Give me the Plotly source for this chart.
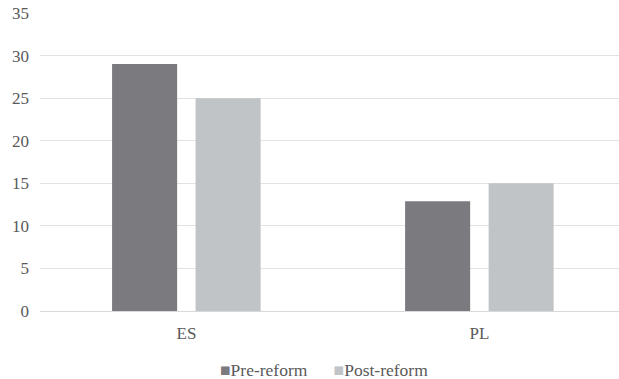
import plotly.graph_objects as go

# Data
countries = ["ES", "PL"]
pre_reform = [29, 12.9]
post_reform = [25, 15]
series_names = ["Pre-reform", "Post-reform"]
y_ticks = [0, 5, 10, 15, 20, 25, 30, 35]

PRE_COLOR = "#7b7a7f"
POST_COLOR = "#c1c4c6"
TEXT_COLOR = "#595959"
GRID_COLOR = "#e2e2e2"
FONT = "Liberation Serif"
AXIS_SIZE = 17
LEGEND_SIZE = 17.5

BAR_W = 0.222

fig = go.Figure()
fig.add_trace(go.Bar(
    x=countries, y=pre_reform, name=series_names[0],
    marker=dict(color=PRE_COLOR, line=dict(width=0)),
    width=BAR_W, offset=-0.254,
))
fig.add_trace(go.Bar(
    x=countries, y=post_reform, name=series_names[1],
    marker=dict(color=POST_COLOR, line=dict(width=0)),
    width=BAR_W, offset=0.031,
))

# Compact legend: square glyph sitting right next to each series name
legend_text = "&nbsp;&nbsp;&nbsp;&nbsp;&nbsp;&nbsp;".join(
    f"<span style='color:{c}'>■</span>{n}"
    for c, n in zip([PRE_COLOR, POST_COLOR], series_names)
)
fig.add_annotation(
    text=legend_text, xref="paper", yref="paper",
    x=0.49, y=-0.198, xanchor="center", yanchor="middle",
    showarrow=False,
    font=dict(family=FONT, size=LEGEND_SIZE, color=TEXT_COLOR),
)

fig.update_layout(
    width=619, height=379,
    margin=dict(l=40, r=0, t=13, b=68),
    plot_bgcolor="white", paper_bgcolor="white",
    barmode="overlay",
    font=dict(family=FONT, size=AXIS_SIZE, color=TEXT_COLOR),
    showlegend=False,
    xaxis=dict(
        type="category", range=[-0.5, 1.476],
        showgrid=False, showline=False, ticks="",
        tickfont=dict(family=FONT, size=AXIS_SIZE, color=TEXT_COLOR),
        ticklabelstandoff=10,
    ),
    yaxis=dict(
        range=[0, 35], tickvals=y_ticks,
        showgrid=True, gridcolor=GRID_COLOR, gridwidth=1.3,
        zeroline=True, zerolinecolor="#d9d9d9", zerolinewidth=1.3,
        showline=False, ticks="",
        tickfont=dict(family=FONT, size=AXIS_SIZE, color=TEXT_COLOR),
        ticklabelstandoff=10,
    ),
)

fig.write_html("out.html")
